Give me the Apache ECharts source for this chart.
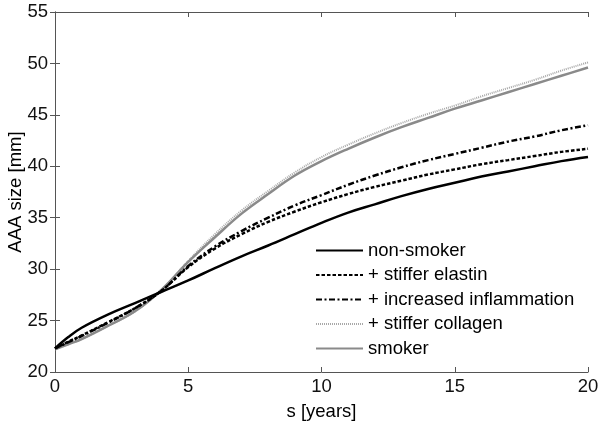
<!DOCTYPE html>
<html>
<head>
<meta charset="utf-8">
<script src="https://cdn.jsdelivr.net/npm/echarts@6/dist/echarts.min.js"></script>
<style>html,body{margin:0;padding:0;background:#fff;}#c{width:604px;height:426px;}</style>
</head>
<body>
<div id="c"></div>
<script>
var years = [0, 0.5, 1, 2, 3, 4, 5, 6, 7, 8, 9, 10, 11, 12, 13, 14, 15, 16, 17, 18, 19, 20];
var nonSmoker     = [22.3, 23.4, 24.3, 25.6, 26.7, 27.8, 28.9, 30.1, 31.25, 32.3, 33.4, 34.5, 35.5, 36.3, 37.1, 37.8, 38.4, 39.0, 39.5, 40.0, 40.5, 40.9];
var stifferElastin = [22.3, 22.95, 23.55, 24.85, 26.2, 27.9, 30.2, 32.0, 33.4, 34.6, 35.6, 36.5, 37.3, 38.0, 38.6, 39.2, 39.7, 40.2, 40.6, 41.0, 41.4, 41.7];
var inflammation  = [22.3, 22.9, 23.5, 24.8, 26.2, 27.9, 30.3, 32.2, 33.7, 35.0, 36.2, 37.2, 38.2, 39.1, 39.9, 40.6, 41.2, 41.8, 42.4, 42.9, 43.5, 44.0];
var stifferCollagen = [22.2, 22.7, 23.2, 24.5, 25.9, 28.0, 30.8, 33.4, 35.7, 37.6, 39.4, 40.9, 42.1, 43.2, 44.2, 45.1, 45.9, 46.8, 47.6, 48.4, 49.3, 50.1];
var smoker        = [22.2, 22.7, 23.2, 24.5, 25.9, 28.0, 30.7, 33.1, 35.4, 37.3, 39.1, 40.5, 41.7, 42.8, 43.8, 44.7, 45.6, 46.4, 47.2, 48.0, 48.8, 49.6];
var seriesNames = ['non-smoker', '+ stiffer elastin', '+ increased inflammation', '+ stiffer collagen', 'smoker'];
var xTicks = [0, 5, 10, 15, 20];
var yTicks = [20, 25, 30, 35, 40, 45, 50, 55];

function pairs(v) { return years.map(function (x, i) { return [x, v[i]]; }); }

var chart = echarts.init(document.getElementById('c'));
var axisCol = '#555';
var font = 'Liberation Sans, Arial, Helvetica, sans-serif';
var fs = 18.5;
function mkSeries(name, data, color, width, type, z) {
  return {
    name: name, type: 'line', data: pairs(data), smooth: 0.4, symbol: 'none',
    xAxisIndex: 0, yAxisIndex: 0, z: z,
    lineStyle: { color: color, width: width, type: type, cap: 'butt' },
    itemStyle: { color: color }
  };
}
chart.setOption({
  animation: false,
  backgroundColor: '#fff',
  grid: { left: 55, right: 16, top: 12, bottom: 54, containLabel: false, outerBoundsMode: 'none' },
  legend: {
    orient: 'vertical', left: 310, top: 236,
    itemWidth: 47, itemHeight: 14, itemGap: 5.5,
    itemStyle: { opacity: 0 },
    textStyle: { fontFamily: font, fontSize: fs, color: '#000' },
    data: seriesNames
  },
  xAxis: [{
    type: 'value', min: 0, max: 20, interval: 5,
    name: 's [years]', nameLocation: 'middle', nameGap: 30,
    nameTextStyle: { fontFamily: font, fontSize: fs, color: '#000' },
    axisLine: { lineStyle: { color: axisCol, width: 1 } },
    axisTick: { inside: true, length: 5, lineStyle: { color: axisCol } },
    axisLabel: { fontFamily: font, fontSize: fs, color: '#111', margin: 5 },
    splitLine: { show: false }
  }, {
    type: 'value', position: 'top', min: 0, max: 20, interval: 5,
    axisLine: { lineStyle: { color: axisCol, width: 1 } },
    axisTick: { inside: true, length: 5, lineStyle: { color: axisCol } },
    axisLabel: { show: false }, splitLine: { show: false }
  }],
  yAxis: [{
    type: 'value', min: 20, max: 55, interval: 5,
    name: 'AAA size [mm]', nameLocation: 'middle', nameGap: 30, nameRotate: 90,
    nameMoveOverlap: false,
    nameTextStyle: { fontFamily: font, fontSize: fs, color: '#000' },
    axisLine: { show: true, lineStyle: { color: axisCol, width: 1 } },
    axisTick: { show: true, inside: true, length: 5, lineStyle: { color: axisCol } },
    axisLabel: { fontFamily: font, fontSize: fs, color: '#111', margin: 7 },
    splitLine: { show: false }
  }, {
    type: 'value', position: 'right', min: 20, max: 55, interval: 5,
    axisLine: { show: true, lineStyle: { color: axisCol, width: 1 } },
    axisTick: { show: true, inside: true, length: 5, lineStyle: { color: axisCol } },
    axisLabel: { show: false }, splitLine: { show: false }
  }],
  series: [
    mkSeries(seriesNames[0], nonSmoker, '#000', 2.5, 'solid', 5),
    mkSeries(seriesNames[1], stifferElastin, '#000', 2.5, [3.5, 2], 4),
    mkSeries(seriesNames[2], inflammation, '#000', 2.5, [6, 2.5, 2, 2.5], 4),
    mkSeries(seriesNames[3], stifferCollagen, '#a8a8a8', 2, [1, 1], 2),
    mkSeries(seriesNames[4], smoker, '#8a8a8a', 2.5, 'solid', 3)
  ]
});
</script>
</body>
</html>
